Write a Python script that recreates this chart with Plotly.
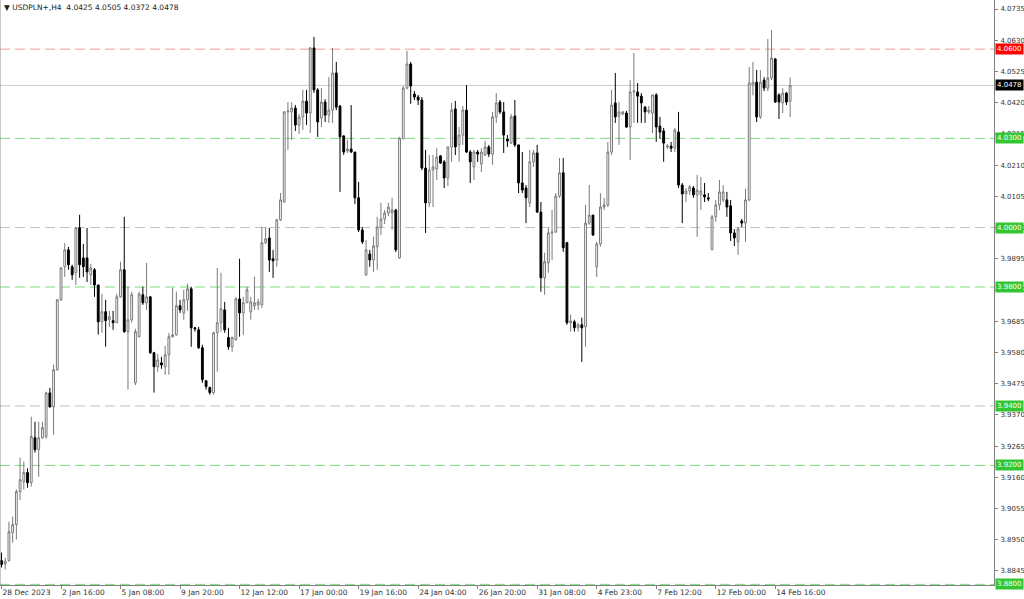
import plotly.graph_objects as go

# USDPLN+ H4 candles
opens = [
    3.8880, 3.8868, 3.8880, 3.8974, 3.9001, 3.9112, 3.9146, 3.9176, 3.9142, 3.9293,
    3.9253, 3.9293, 3.9297, 3.9444, 3.9397, 3.9522, 3.9757, 3.9868, 3.9925, 3.9868,
    3.9848, 3.9999, 3.9898, 3.9898, 3.9841, 3.9858, 3.9807, 3.9683, 3.9717, 3.9690,
    3.9687, 3.9680, 3.9767, 3.9858, 3.9650, 3.9690, 3.9478, 3.9633, 3.9774, 3.9747,
    3.9767, 3.9579, 3.9532, 3.9545, 3.9532, 3.9572, 3.9633, 3.9639, 3.9737, 3.9713,
    3.9757, 3.9794, 3.9663, 3.9656, 3.9596, 3.9485, 3.9462, 3.9445, 3.9646, 3.9680,
    3.9723, 3.9630, 3.9599, 3.9623, 3.9760, 3.9713, 3.9747, 3.9716, 3.9737, 3.9740,
    3.9740, 3.9949, 3.9965, 3.9895, 3.9891, 4.0026, 4.0086, 4.0389, 4.0389, 4.0402,
    4.0345, 4.0372, 4.0425, 4.0385, 4.0604, 4.0463, 4.0368, 4.0422, 4.0378, 4.0395,
    4.0520, 4.0409, 4.0308, 4.0258, 4.0264, 4.0254, 4.0100, 3.9992, 3.9841, 3.9911,
    3.9891, 3.9935, 4.0002, 4.0029, 4.0049, 4.0049, 4.0059, 3.9898, 4.0298, 4.0469,
    4.0550, 4.0449, 4.0439, 4.0429, 4.0200, 4.0083, 4.0194, 4.0197, 4.0241, 4.0221,
    4.0167, 4.0271, 4.0399, 4.0278, 4.0311, 4.0395, 4.0254, 4.0204, 4.0254, 4.0214,
    4.0244, 4.0271, 4.0247, 4.0372, 4.0422, 4.0389, 4.0298, 4.0285, 4.0375, 4.0278,
    4.0150, 4.0133, 4.0083, 4.0221, 4.0251, 4.0052, 3.9831, 3.9881, 3.9982, 3.9985,
    4.0106, 4.0184, 3.9949, 3.9680, 3.9683, 3.9663, 3.9673, 3.9666, 4.0015, 4.0042,
    3.9868, 3.9945, 4.0069, 4.0076, 4.0254, 4.0419, 4.0375, 4.0382, 4.0385, 4.0338,
    4.0456, 4.0456, 4.0442, 4.0405, 4.0389, 4.0385, 4.0446, 4.0341, 4.0325, 4.0271,
    4.0274, 4.0267, 4.0321, 4.0143, 4.0113, 4.0123, 4.0133, 4.0110, 4.0110, 4.0110,
    4.0100, 3.9925, 4.0036, 4.0076, 4.0093, 4.0093, 4.0073, 3.9982, 3.9952, 4.0022,
    4.0015, 4.0093, 4.0479, 4.0489, 4.0372, 4.0496, 4.0469, 4.0503, 4.0567, 4.0446,
    4.0419, 4.0452, 4.0425,
]
highs = [
    3.8907, 3.8890, 3.9011, 3.9028, 3.9119, 3.9226, 3.9213, 3.9190, 3.9364, 3.9347,
    3.9347, 3.9347, 3.9448, 3.9461, 3.9539, 3.9760, 3.9868, 3.9948, 3.9935, 3.9875,
    4.0002, 4.0043, 3.9945, 3.9999, 3.9878, 3.9864, 3.9807, 3.9777, 3.9757, 3.9720,
    3.9720, 3.9777, 3.9885, 4.0036, 3.9801, 3.9784, 3.9660, 3.9784, 3.9801, 3.9881,
    3.9770, 3.9582, 3.9575, 3.9565, 3.9602, 3.9646, 3.9797, 3.9784, 3.9757, 3.9791,
    3.9811, 3.9801, 3.9666, 3.9666, 3.9606, 3.9485, 3.9465, 3.9650, 3.9864, 3.9848,
    3.9750, 3.9663, 3.9633, 3.9767, 3.9895, 3.9767, 3.9801, 3.9767, 3.9835, 3.9760,
    4.0002, 4.0002, 3.9999, 3.9925, 4.0029, 4.0116, 4.0392, 4.0422, 4.0422, 4.0412,
    4.0382, 4.0463, 4.0463, 4.0607, 4.0641, 4.0469, 4.0469, 4.0432, 4.0506, 4.0604,
    4.0557, 4.0412, 4.0311, 4.0295, 4.0412, 4.0254, 4.0153, 4.0002, 3.9958, 3.9925,
    3.9969, 4.0036, 4.0083, 4.0059, 4.0083, 4.0100, 4.0063, 4.0305, 4.0476, 4.0594,
    4.0557, 4.0459, 4.0446, 4.0439, 4.0261, 4.0244, 4.0244, 4.0267, 4.0244, 4.0227,
    4.0271, 4.0419, 4.0426, 4.0338, 4.0409, 4.0479, 4.0261, 4.0261, 4.0261, 4.0267,
    4.0291, 4.0278, 4.0389, 4.0452, 4.0429, 4.0422, 4.0311, 4.0382, 4.0429, 4.0278,
    4.0254, 4.0143, 4.0261, 4.0261, 4.0278, 4.0086, 3.9915, 3.9999, 4.0059, 4.0116,
    4.0234, 4.0234, 3.9952, 3.9707, 3.9690, 3.9680, 3.9697, 4.0076, 4.0143, 4.0042,
    3.9952, 4.0116, 4.0100, 4.0288, 4.0463, 4.0520, 4.0422, 4.0392, 4.0392, 4.0496,
    4.0587, 4.0486, 4.0452, 4.0409, 4.0409, 4.0446, 4.0452, 4.0372, 4.0335, 4.0281,
    4.0288, 4.0335, 4.0389, 4.0150, 4.0133, 4.0143, 4.0140, 4.0177, 4.0170, 4.0150,
    4.0116, 4.0042, 4.0093, 4.0160, 4.0143, 4.0120, 4.0093, 3.9995, 4.0002, 4.0029,
    4.0130, 4.0540, 4.0557, 4.0530, 4.0530, 4.0506, 4.0634, 4.0664, 4.0570, 4.0452,
    4.0469, 4.0456, 4.0505,
]
lows = [
    3.8857, 3.8850, 3.8877, 3.8940, 3.8951, 3.9084, 3.9119, 3.9125, 3.9129, 3.9243,
    3.9162, 3.9290, 3.9290, 3.9394, 3.9303, 3.9518, 3.9754, 3.9834, 3.9858, 3.9824,
    3.9807, 3.9831, 3.9834, 3.9817, 3.9807, 3.9767, 3.9640, 3.9646, 3.9599, 3.9666,
    3.9656, 3.9680, 3.9764, 3.9646, 3.9455, 3.9680, 3.9470, 3.9630, 3.9740, 3.9723,
    3.9575, 3.9445, 3.9515, 3.9525, 3.9505, 3.9505, 3.9630, 3.9636, 3.9713, 3.9690,
    3.9720, 3.9599, 3.9650, 3.9592, 3.9478, 3.9455, 3.9438, 3.9438, 3.9515, 3.9650,
    3.9646, 3.9589, 3.9582, 3.9619, 3.9633, 3.9639, 3.9747, 3.9690, 3.9723, 3.9723,
    3.9730, 3.9945, 3.9851, 3.9831, 3.9868, 4.0022, 4.0083, 4.0261, 4.0295, 4.0325,
    4.0315, 4.0328, 4.0345, 4.0318, 4.0453, 4.0305, 4.0338, 4.0355, 4.0352, 4.0352,
    4.0395, 4.0120, 4.0244, 4.0251, 4.0251, 4.0079, 3.9985, 3.9945, 3.9838, 3.9868,
    3.9851, 3.9858, 3.9975, 4.0012, 4.0039, 3.9992, 3.9918, 3.9895, 4.0298, 4.0465,
    4.0416, 4.0429, 4.0412, 4.0193, 3.9982, 4.0069, 4.0069, 4.0160, 4.0214, 4.0133,
    4.0140, 4.0221, 4.0244, 4.0221, 4.0278, 4.0251, 4.0150, 4.0160, 4.0221, 4.0187,
    4.0240, 4.0237, 4.0211, 4.0352, 4.0382, 4.0251, 4.0271, 4.0281, 4.0271, 4.0116,
    4.0116, 4.0015, 4.0069, 4.0204, 4.0049, 3.9784, 3.9774, 3.9848, 3.9891, 3.9982,
    4.0100, 3.9918, 3.9673, 3.9650, 3.9650, 3.9650, 3.9548, 3.9599, 4.0009, 3.9972,
    3.9834, 3.9935, 4.0059, 4.0069, 4.0244, 4.0352, 4.0278, 4.0379, 4.0335, 4.0227,
    4.0352, 4.0352, 4.0352, 4.0352, 4.0382, 4.0318, 4.0288, 4.0298, 4.0221, 4.0264,
    4.0254, 4.0254, 4.0133, 4.0015, 4.0086, 4.0110, 4.0100, 3.9969, 4.0059, 4.0086,
    4.0089, 3.9925, 4.0019, 4.0059, 4.0086, 4.0036, 3.9955, 3.9938, 3.9908, 4.0002,
    3.9952, 4.0089, 4.0445, 4.0355, 4.0365, 4.0459, 4.0459, 4.0496, 4.0419, 4.0365,
    4.0385, 4.0412, 4.0372,
]
closes = [
    3.8867, 3.8878, 3.8977, 3.9001, 3.9112, 3.9152, 3.9176, 3.9142, 3.9297, 3.9253,
    3.9293, 3.9327, 3.9444, 3.9397, 3.9522, 3.9757, 3.9864, 3.9925, 3.9875, 3.9841,
    3.9999, 3.9875, 3.9868, 3.9851, 3.9864, 3.9807, 3.9683, 3.9717, 3.9687, 3.9700,
    3.9680, 3.9767, 3.9858, 3.9650, 3.9690, 3.9774, 3.9650, 3.9777, 3.9747, 3.9767,
    3.9579, 3.9532, 3.9555, 3.9538, 3.9572, 3.9633, 3.9639, 3.9737, 3.9723, 3.9757,
    3.9794, 3.9663, 3.9659, 3.9596, 3.9488, 3.9465, 3.9445, 3.9646, 3.9680, 3.9727,
    3.9656, 3.9599, 3.9630, 3.9760, 3.9713, 3.9747, 3.9791, 3.9750, 3.9747, 3.9750,
    3.9949, 3.9962, 3.9891, 3.9888, 4.0026, 4.0093, 4.0389, 4.0392, 4.0402, 4.0345,
    4.0372, 4.0425, 4.0385, 4.0604, 4.0463, 4.0355, 4.0422, 4.0378, 4.0395, 4.0520,
    4.0405, 4.0305, 4.0254, 4.0264, 4.0254, 4.0100, 3.9992, 3.9952, 3.9925, 3.9891,
    3.9938, 4.0002, 4.0029, 4.0049, 4.0069, 4.0059, 3.9925, 4.0301, 4.0469, 4.0550,
    4.0476, 4.0439, 4.0429, 4.0200, 4.0083, 4.0194, 4.0204, 4.0237, 4.0217, 4.0167,
    4.0271, 4.0395, 4.0271, 4.0311, 4.0395, 4.0254, 4.0221, 4.0254, 4.0247, 4.0254,
    4.0271, 4.0247, 4.0372, 4.0419, 4.0389, 4.0311, 4.0291, 4.0372, 4.0278, 4.0150,
    4.0126, 4.0100, 4.0221, 4.0251, 4.0052, 3.9831, 3.9885, 3.9982, 3.9985, 4.0106,
    4.0184, 3.9932, 3.9680, 3.9686, 3.9663, 3.9673, 3.9663, 4.0015, 4.0042, 3.9975,
    3.9945, 4.0069, 4.0076, 4.0254, 4.0412, 4.0372, 4.0389, 4.0389, 4.0338, 4.0456,
    4.0459, 4.0442, 4.0419, 4.0389, 4.0395, 4.0446, 4.0338, 4.0321, 4.0284, 4.0274,
    4.0267, 4.0328, 4.0143, 4.0113, 4.0123, 4.0137, 4.0110, 4.0126, 4.0123, 4.0103,
    4.0096, 4.0036, 4.0076, 4.0120, 4.0120, 4.0069, 3.9982, 3.9965, 3.9995, 4.0015,
    4.0093, 4.0486, 4.0489, 4.0372, 4.0489, 4.0469, 4.0503, 4.0570, 4.0422, 4.0422,
    4.0452, 4.0422, 4.0478,
]

date_labels = ["28 Dec 2023", "2 Jan 16:00", "5 Jan 08:00", "9 Jan 20:00", "12 Jan 12:00",
               "17 Jan 00:00", "19 Jan 16:00", "24 Jan 04:00", "26 Jan 20:00", "31 Jan 08:00",
               "4 Feb 23:00", "7 Feb 12:00", "12 Feb 00:00", "14 Feb 16:00"]
date_label_bars = [0, 16, 32, 48, 64, 80, 96, 112, 128, 144, 160, 176, 192, 208]

price_ticks = [4.0735, 4.0630, 4.0525, 4.0420, 4.0315, 4.0210, 4.0105, 4.0000, 3.9895,
               3.9790, 3.9685, 3.9580, 3.9475, 3.9370, 3.9265, 3.9160, 3.9055, 3.8950, 3.8845]

resistance_level = 4.0600
green_levels = [4.0300, 3.9800, 3.9200, 3.8800]
grey_levels = [4.0000, 3.9400]
last_price = 4.0478
header = "USDPLN+,H4  4.0425 4.0505 4.0372 4.0478"

bars = list(range(len(closes)))

fig = go.Figure(go.Candlestick(
    x=bars, open=opens, high=highs, low=lows, close=closes,
    increasing=dict(line=dict(color="#7a7a7a", width=1), fillcolor="#ffffff"),
    decreasing=dict(line=dict(color="#000000", width=1), fillcolor="#000000"),
    whiskerwidth=0,
    hoverinfo="skip",
))

shapes = []
annotations = []


def level(y, line_col, box_col, dash="10px,5px"):
    shapes.append(dict(type="line", xref="paper", x0=0, x1=1, yref="y", y0=y, y1=y,
                       line=dict(color=line_col, width=1, dash=dash), layer="below"))
    annotations.append(dict(xref="paper", x=1, xanchor="left", xshift=1, yref="y", y=y,
                            text=f"{y:.4f}", showarrow=False, bgcolor=box_col,
                            font=dict(family="DejaVu Sans", size=7, color="white"),
                            borderpad=1))


level(resistance_level, "#ee9a9a", "#ff0000")
for v in green_levels:
    level(v, "#7ddc7d", "#33c633")
for v in grey_levels:
    level(v, "#b4c8b4", "#33c633")
level(last_price, "#cccccc", "#000000", dash="solid")

# left frame edge
shapes.append(dict(type="line", xref="paper", yref="paper", x0=0, x1=0, y0=0, y1=1,
                   line=dict(color="#909090", width=1)))

annotations.append(dict(xref="paper", yref="paper", x=0, y=1, xanchor="left", yanchor="top",
                        xshift=2, yshift=-1, showarrow=False, text="▼ " + header,
                        font=dict(family="DejaVu Sans", size=7.5, color="#222222")))

fig.update_layout(
    width=1024, height=599,
    margin=dict(l=0, r=30, t=0, b=14),
    paper_bgcolor="white", plot_bgcolor="white",
    showlegend=False,
    shapes=shapes, annotations=annotations,
    font=dict(family="DejaVu Sans", size=7.5, color="#333333"),
)
fig.update_xaxes(
    range=[-0.4, 266.8], rangeslider_visible=False, showgrid=False, zeroline=False,
    tickmode="array", tickvals=date_label_bars, ticktext=date_labels,
    ticks="outside", ticklen=3, tickcolor="#808080", ticklabelposition="outside right",
    showline=True, linecolor="#808080", linewidth=1, automargin=False,
)
fig.update_yaxes(
    range=[3.87979, 4.07653], side="right", showgrid=False, zeroline=False,
    tickmode="array", tickvals=price_ticks, tickformat=".4f",
    tickfont=dict(size=7), ticklabelstandoff=1,
    ticks="outside", ticklen=3, tickcolor="#808080",
    showline=True, linecolor="#808080", linewidth=1, automargin=False,
)

fig.write_html("out.html", config={"displayModeBar": False},
               post_script="document.body.style.margin='0px';")
